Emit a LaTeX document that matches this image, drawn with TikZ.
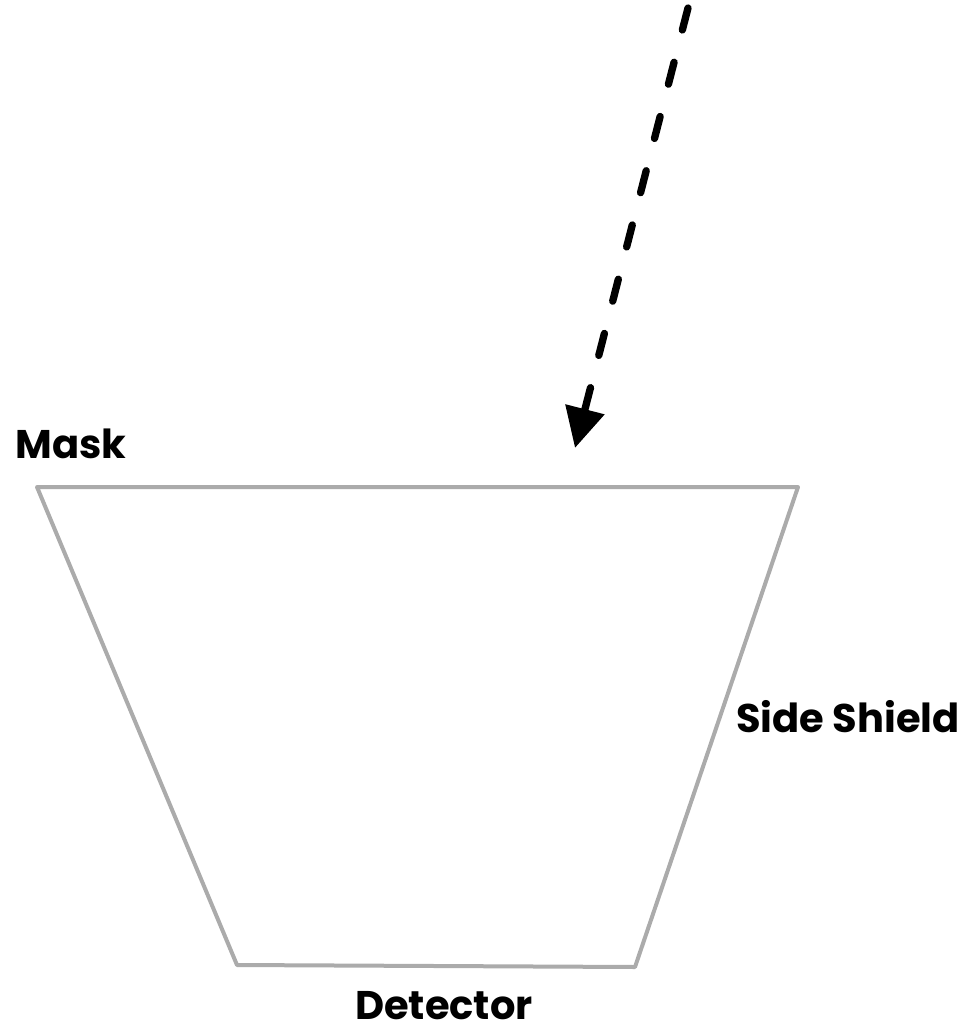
\documentclass[tikz,border=0pt]{standalone}
\usepackage{fontspec}
\setmainfont{Poppins}
\usetikzlibrary{arrows.meta}

\begin{document}
\begin{tikzpicture}[x=0.75pt, y=-0.75pt,
  wall/.style={draw=black!33, line width=3pt, line join=round},
  label/.style={font=\fontsize{30}{34}\selectfont\bfseries, inner sep=0pt},
  ray/.style={line width=5.5pt, line cap=round, dash pattern=on 17pt off 25pt,
    -{Triangle[width=29pt, length=30pt]}}]

  \useasboundingbox (0,0) rectangle (965,1035);

  % collimator outline
  \coordinate (maskL) at (37,487);
  \coordinate (maskR) at (798,487);
  \coordinate (detR) at (635,967);
  \coordinate (detL) at (237,965);
  \draw[wall] (maskL) -- (maskR) -- (detR) -- (detL) -- cycle;

  % incoming photon
  \coordinate (src) at (688,8);
  \coordinate (hit) at (575,448);
  \draw[ray] (src) -- (hit);

  \node[label] (mask) at (71,444) {Mask};
  \node[label] (shield) at (848,717) {Side Shield};
  \node[label] (detector) at (444,1006) {Detector};

\end{tikzpicture}
\end{document}
